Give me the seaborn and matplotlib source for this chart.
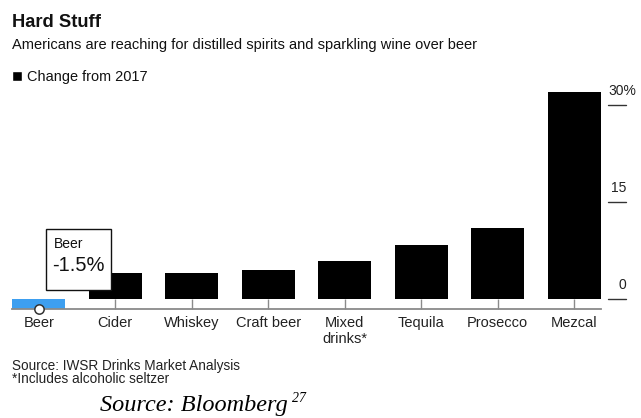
import matplotlib
matplotlib.use("Agg")
import matplotlib.pyplot as plt
import seaborn as sns
import pandas as pd
from matplotlib.transforms import blended_transform_factory
from matplotlib.patches import Rectangle

# ---- data ----
categories = ["Beer", "Cider", "Whiskey", "Craft beer", "Mixed\ndrinks*",
              "Tequila", "Prosecco", "Mezcal"]
values = [-1.5, 4.1, 4.0, 4.6, 6.0, 8.4, 11.0, 32.0]
ytick_values = [0, 15, 30]
ytick_labels = ["0", "15", "30%"]

title = "Hard Stuff"
subtitle = "Americans are reaching for distilled spirits and sparkling wine over beer"
legend_label = "Change from 2017"
source1 = "Source: IWSR Drinks Market Analysis"
source2 = "*Includes alcoholic seltzer"

sns.set_theme(style="white")
plt.rcParams['font.family'] = ['Liberation Sans', 'DejaVu Sans']

W, H = 641, 418
fig = plt.figure(figsize=(W / 100, H / 100), dpi=100)
fig.patch.set_facecolor("white")


def px(x, y):
    return x / W, 1 - y / H


renderer = fig.canvas.get_renderer()


def fit_text(x, y, s, width, size, **kw):
    t = fig.text(*px(x, y), s, fontsize=size, **kw)
    w = t.get_window_extent(renderer=renderer).width
    t.set_fontsize(size * width / w)
    return t


ax = fig.add_axes([12 / W, 1 - 309 / H, (601 - 12) / W, (309 - 75) / H])

df = pd.DataFrame({"category": categories, "value": values})
palette = ["#3d9ff0"] + ["#000000"] * (len(categories) - 1)
sns.barplot(data=df, x="category", y="value", hue="category", palette=palette,
            legend=False, width=0.69, saturation=1, ax=ax, edgecolor="none")

ax.set_xlim(-0.35, len(categories) - 1 + 0.35)
ax.set_ylim(-1.5, 34.7)
ax.set_xlabel("")
ax.set_ylabel("")
for s in ["top", "left", "right"]:
    ax.spines[s].set_visible(False)
ax.spines["bottom"].set_color("#8a8a8a")
ax.spines["bottom"].set_linewidth(1.3)
ax.set_axisbelow(True)
ax.tick_params(axis="x", direction="in", length=7, width=1, color="#8a8a8a",
               labelsize=10.5, labelcolor="#222222", pad=5, bottom=True)
ax.set_yticks([])
ax.grid(False)

# right-side value ticks
tr = blended_transform_factory(ax.transAxes, ax.transData)
for v, lab in zip(ytick_values, ytick_labels):
    ax.plot([1.012, 1.043], [v, v], transform=tr, clip_on=False,
            color="#333333", lw=1)
    if lab.endswith("%"):
        ax.text(1.012, v + 1.1, lab, transform=tr, ha="left", va="bottom",
                fontsize=10, color="#222222", clip_on=False)
    else:
        ax.text(1.043, v + 1.1, lab, transform=tr, ha="right", va="bottom",
                fontsize=10, color="#222222", clip_on=False)

# beer marker + annotation
ax.scatter([0], [values[0]], s=45, facecolor="white", edgecolor="#333333",
           linewidth=1.1, zorder=6, clip_on=False)
ax.add_patch(Rectangle((0.10, 1.5), 0.85, 9.4, facecolor="white",
                       edgecolor="#111111", lw=1, zorder=5))
ax.text(0.2, 9.6, categories[0], fontsize=10, va="top", ha="left",
        color="#111111", zorder=7)
ax.text(0.17, 6.7, f"{values[0]:.1f}%", fontsize=14.5, va="top", ha="left",
        color="#111111", zorder=7)

# header texts
fit_text(12, 27, title, 89, 13, fontweight="bold", color="#111111",
         va="baseline")
fit_text(12, 49, subtitle, 460, 11, color="#111111", va="baseline")
fig.patches.append(Rectangle(px(12, 81), 10 / W, 10 / H, facecolor="black",
                             transform=fig.transFigure, figure=fig))
fit_text(27, 81, legend_label, 120, 9, color="#111111", va="baseline")

# footer texts
fit_text(12, 370, source1, 226, 8.5, color="#222222", va="baseline")
fit_text(12, 383, source2, 157, 8.5, color="#222222", va="baseline")
fit_text(100, 411, "Source: Bloomberg", 188, 14,
         family=["Liberation Serif", "DejaVu Serif"], style="italic",
         color="black", va="baseline")
fig.text(*px(292, 402), "27", fontsize=10,
         family=["Liberation Serif", "DejaVu Serif"], style="italic",
         color="black", va="baseline")

fig.savefig("out.png", dpi=100, facecolor="white")
